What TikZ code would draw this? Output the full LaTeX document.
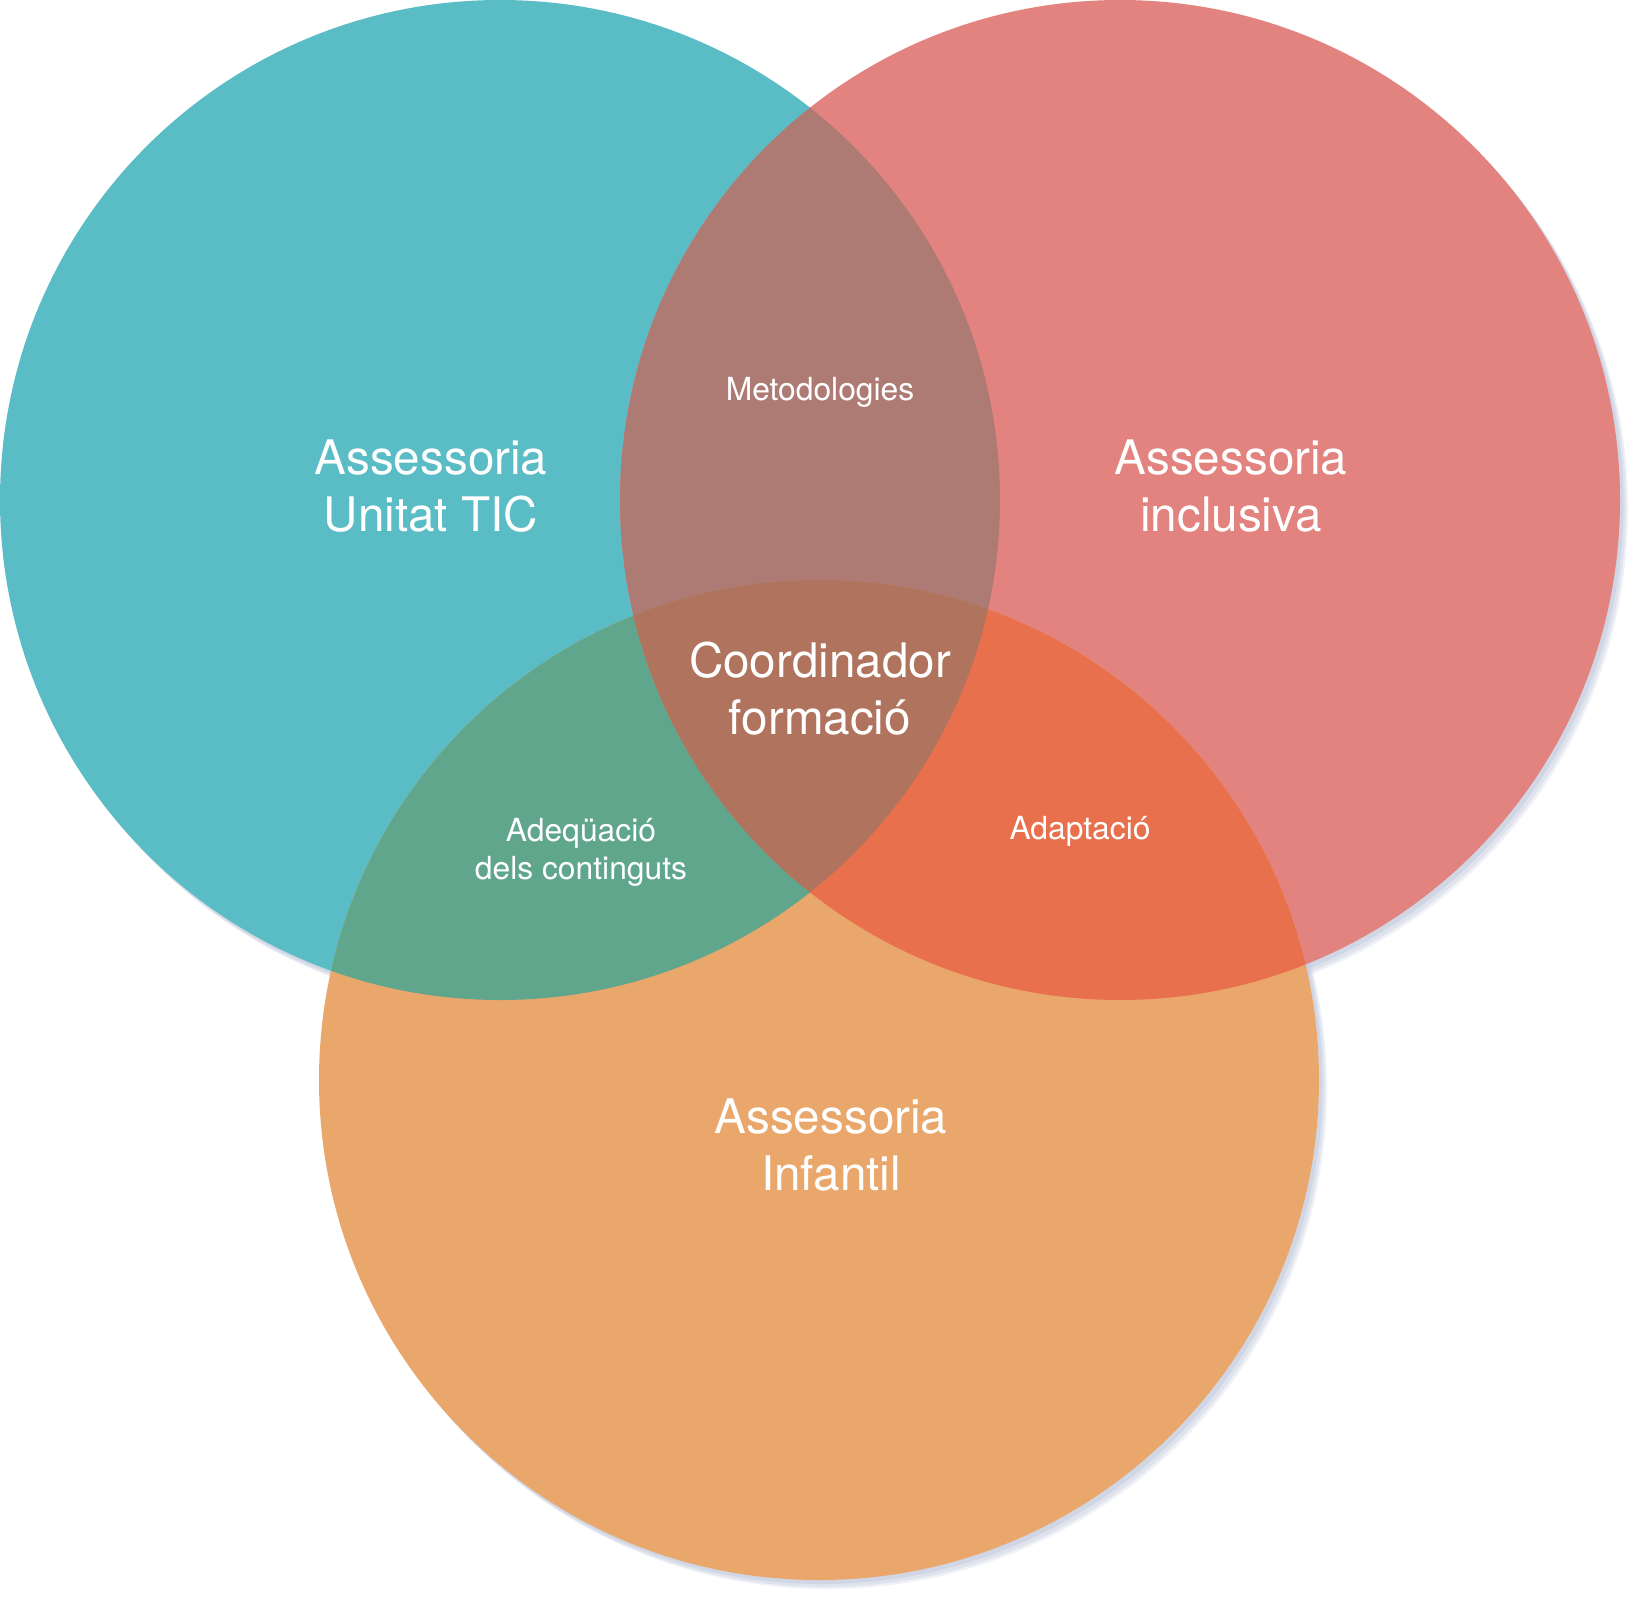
\documentclass[tikz,border=0pt]{standalone}
\usepackage{fontspec}
\setmainfont{TeX Gyre Heros}
\begin{document}
\begin{tikzpicture}[x=0.5pt,y=-0.5pt]
  % palette
  \definecolor{tic}{HTML}{5ABCC5}
  \definecolor{incl}{HTML}{E3837F}
  \definecolor{inf}{HTML}{EAA76C}
  \definecolor{ticincl}{HTML}{AE7B74}
  \definecolor{ticinf}{HTML}{5FA68C}
  \definecolor{inclinf}{HTML}{E8704D}
  \definecolor{allthree}{HTML}{B0745E}
  \definecolor{halo}{HTML}{C3CBDD}
  \tikzset{
    big/.style={text=white, align=center, font=\fontsize{23.8}{28.5}\selectfont},
    small/.style={text=white, align=center, font=\fontsize{15.9}{19}\selectfont},
  }
  \useasboundingbox (0,0) rectangle (1644,1606);
  \fill[white] (0,0) rectangle (1644,1606);

  \coordinate (cT) at (500,500);
  \coordinate (cI) at (1120,500);
  \coordinate (cN) at (819,1080);

  % soft drop shadows
  \foreach \c in {cT,cI,cN}{
    \fill[halo, opacity=0.25] ([shift={(8,9)}]\c) circle[radius=500];
    \fill[halo, opacity=0.35] ([shift={(6,7)}]\c) circle[radius=500];
    \fill[halo, opacity=0.5]  ([shift={(3.5,4)}]\c) circle[radius=500];
  }

  % the three circles
  \fill[tic]  (cT) circle[radius=500];
  \fill[incl] (cI) circle[radius=500];
  \fill[inf]  (cN) circle[radius=500];

  % pairwise overlaps
  \begin{scope}
    \clip (cT) circle[radius=500];
    \fill[ticincl] (cI) circle[radius=500];
  \end{scope}
  \begin{scope}
    \clip (cT) circle[radius=500];
    \fill[ticinf] (cN) circle[radius=500];
  \end{scope}
  \begin{scope}
    \clip (cI) circle[radius=500];
    \fill[inclinf] (cN) circle[radius=500];
  \end{scope}
  % common core
  \begin{scope}
    \clip (cT) circle[radius=500];
    \clip (cI) circle[radius=500];
    \fill[allthree] (cN) circle[radius=500];
  \end{scope}

  % labels
  \node[big] (lt) at (431,486) {Assessoria\\Unitat TIC};
  \node[big] (li) at (1231,486) {Assessoria\\inclusiva};
  \node[big] (ln) at (831,1145) {Assessoria\\Infantil};
  \node[big] (lc) at (820,689) {Coordinador\\formació};
  \node[small, anchor=base] (lm) at (820,400) {Metodologies};
  \node[small] (la) at (581,852) {Adeqüació\\dels continguts};
  \node[small, anchor=base] (lp) at (1080,839) {Adaptació};
\end{tikzpicture}
\end{document}
